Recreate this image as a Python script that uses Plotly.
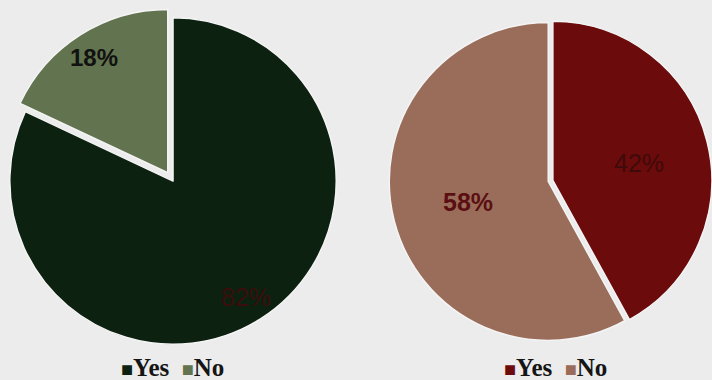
import math
import plotly.graph_objects as go

labels = ["Yes", "No"]
left_values = [82, 18]
right_values = [42, 58]

left_colors = ["#0c2110", "#62744f"]
right_colors = ["#6c0b0b", "#9a6d5b"]

W, H = 712, 380

# domains and pulls (layout)
left_domain = dict(x=[0.0, 0.486], y=[0.068, 0.979])
right_domain = dict(x=[0.54, 1.0], y=[0.06, 0.985])
left_pull = [0, 0.06]
right_pull = [0.03, 0]

fig = go.Figure()

fig.add_trace(go.Pie(
    labels=labels, values=left_values, sort=False, direction="clockwise",
    rotation=0, pull=left_pull,
    marker=dict(colors=left_colors, line=dict(color="#f4f4f4", width=1.5)),
    textinfo="none", domain=left_domain, hoverinfo="label+percent",
    showlegend=False,
))

fig.add_trace(go.Pie(
    labels=labels, values=right_values, sort=False, direction="clockwise",
    rotation=0, pull=right_pull,
    marker=dict(colors=right_colors, line=dict(color="#f4f4f4", width=1.5)),
    textinfo="none", domain=right_domain, hoverinfo="label+percent",
    showlegend=False,
))


def pie_geometry(domain, pulls):
    x0, x1 = domain["x"]
    y0, y1 = domain["y"]
    cx = (x0 + x1) / 2 * W
    cy = (y0 + y1) / 2 * H
    r = min((x1 - x0) * W, (y1 - y0) * H) / 2 / (1 + max(pulls))
    return cx, cy, r


def add_labels(values, domain, pulls, fracs, offsets, styles):
    cx, cy, r = pie_geometry(domain, pulls)
    total = sum(values)
    start = 0.0
    for v, p, f, off, st in zip(values, pulls, fracs, offsets, styles):
        mid = (start + v / 2) / total * 2 * math.pi + math.radians(off)
        start += v
        rr = r * (f + p)
        x = cx + rr * math.sin(mid)
        y = cy + rr * math.cos(mid)
        txt = f"{round(v / total * 100)}%"
        if st["bold"]:
            txt = f"<b>{txt}</b>"
        fig.add_annotation(x=x / W, y=y / H, xref="paper", yref="paper",
                           text=txt, showarrow=False, xanchor="center", yanchor="middle",
                           font=dict(family="Liberation Sans", size=st["size"], color=st["color"]))


add_labels(left_values, left_domain, left_pull, [0.84, 0.84], [0, 0],
           [dict(bold=False, size=25, color="#3b0d0d"), dict(bold=True, size=24, color="#111111")])
add_labels(right_values, right_domain, right_pull, [0.55, 0.52], [3, 0],
           [dict(bold=False, size=25, color="#3e0a0a"), dict(bold=True, size=25, color="#5a0f12")])


def legend_text(colors):
    parts = []
    for lab, col in zip(labels, colors):
        parts.append(f"<span style='color:{col};font-size:20px'>■</span><b>{lab}</b>")
    return "  ".join(parts)


for cxp, cols in [(172 / W, left_colors), (555 / W, right_colors)]:
    fig.add_annotation(x=cxp, y=-3 / H, xref="paper", yref="paper",
                       text=legend_text(cols), showarrow=False,
                       xanchor="center", yanchor="bottom",
                       font=dict(family="Liberation Serif", size=25, color="#151515"))

fig.update_layout(
    width=W, height=H,
    margin=dict(l=0, r=0, t=0, b=0),
    paper_bgcolor="#ececec", plot_bgcolor="#ececec",
    showlegend=False,
)

fig.write_html("out.html", config={"displayModeBar": False},
               post_script="document.body.style.margin='0';")
